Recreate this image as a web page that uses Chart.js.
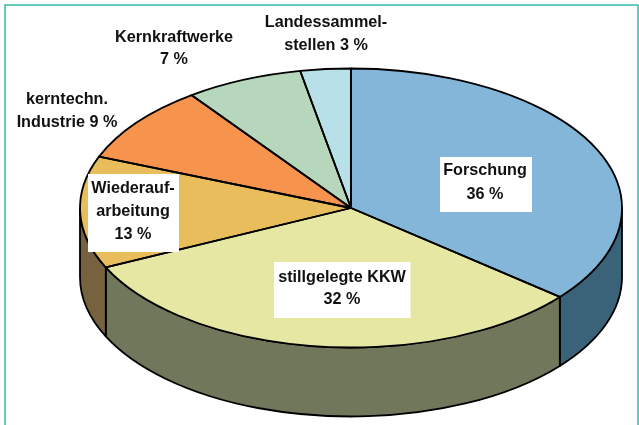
<!DOCTYPE html>
<html>
<head>
<meta charset="utf-8">
<style>html,body{margin:0;padding:0;background:#fff}canvas{display:block}</style>
<script src="https://cdn.jsdelivr.net/npm/chart.js@4"></script>
</head>
<body>
<canvas id="c" width="639" height="425"></canvas>
<script>
const categories = ["Forschung", "stillgelegte KKW", "Wiederaufarbeitung", "kerntechn. Industrie", "Kernkraftwerke", "Landessammelstellen"];
const values = [36, 32, 13, 9, 7, 3];
const topColors = ["#83b6d8", "#e5e7a3", "#e9bc5c", "#f6934c", "#b6d7bb", "#b7e0e8"];
const sideColors = ["#3a6379", "#71775a", "#76623e", "#7b4a26", "#5b6c5e", "#5c7074"];
const labelLines = [
  ["Forschung", "36 %"],
  ["stillgelegte KKW", "32 %"],
  ["Wiederauf-", "arbeitung", "13 %"],
  ["kerntechn.", "Industrie 9 %"],
  ["Kernkraftwerke", "7 %"],
  ["Landessammel-", "stellen 3 %"]
];
// layout of the 3D pie and its text
const CX = 351, CY = 208, RX = 271, RY = 139.5, DEPTH = 69;
const labelPos = [[485, 171, 24], [342, 278, 22], [133, 189, 23], [67, 100, 23], [174, 38, 22], [326, 23, 23]];
const labelBox = [[440, 157, 92, 55], [274, 262, 136.5, 56], [88, 174, 91, 78], null, null, null];

function wallPath(ctx, a0, a1) {
  ctx.beginPath();
  ctx.ellipse(CX, CY, RX, RY, 0, a0, a1);
  ctx.ellipse(CX, CY + DEPTH, RX, RY, 0, a1, a0, true);
  ctx.closePath();
}
const pie3d = {
  id: "pie3d",
  beforeDraw(chart) {
    const ctx = chart.ctx;
    ctx.save();
    ctx.fillStyle = "#ffffff";
    ctx.fillRect(0, 0, 639, 425);
    ctx.strokeStyle = "#2fbda5";
    ctx.lineWidth = 1.5;
    ctx.strokeRect(5, 5, 633, 430);
    ctx.restore();
  },
  beforeDatasetsDraw(chart) {
    const ctx = chart.ctx, arcs = chart.getDatasetMeta(0).data;
    ctx.save();
    ctx.strokeStyle = "#000";
    ctx.lineWidth = 1.8;
    ctx.lineJoin = "round";
    arcs.forEach((el, i) => {
      const tau = 2 * Math.PI;
      // front-facing part of the slice: canvas angles 0..PI
      for (const shift of [-tau, 0, tau]) {
        const a0 = Math.max(el.startAngle + shift, 0), a1 = Math.min(el.endAngle + shift, Math.PI);
        if (a1 > a0) {
          wallPath(ctx, a0, a1);
          ctx.fillStyle = sideColors[i];
          ctx.fill();
          ctx.stroke();
        }
      }
    });
    ctx.restore();
    const e = arcs[0];
    ctx.save();
    ctx.translate(CX, CY);
    ctx.scale(RX / e.outerRadius, RY / e.outerRadius);
    ctx.translate(-e.x, -e.y);
  },
  afterDatasetsDraw(chart) {
    const ctx = chart.ctx, arcs = chart.getDatasetMeta(0).data;
    ctx.restore();
    ctx.save();
    ctx.strokeStyle = "#000";
    ctx.lineWidth = 1.8;
    ctx.lineJoin = "round";
    arcs.forEach(el => {
      ctx.beginPath();
      ctx.moveTo(CX, CY);
      ctx.ellipse(CX, CY, RX, RY, 0, el.startAngle, el.endAngle);
      ctx.closePath();
      ctx.stroke();
    });
    labelBox.forEach(b => {
      if (b) { ctx.fillStyle = "#fff"; ctx.fillRect(b[0], b[1], b[2], b[3]); }
    });
    ctx.fillStyle = "#111";
    ctx.font = "bold 16.2px 'Liberation Sans', Arial, sans-serif";
    ctx.textAlign = "center";
    ctx.textBaseline = "middle";
    labelLines.forEach((lines, i) => {
      const p = labelPos[i];
      lines.forEach((t, k) => ctx.fillText(t, p[0], p[1] + k * p[2]));
    });
    ctx.restore();
  }
};
new Chart(document.getElementById("c"), {
  type: "pie",
  data: {
    labels: categories,
    datasets: [{ data: values, backgroundColor: topColors, borderWidth: 0, clip: false }]
  },
  options: {
    responsive: false,
    animation: false,
    events: [],
    plugins: { legend: { display: false }, tooltip: { enabled: false } }
  },
  plugins: [pie3d]
});
</script>
</body>
</html>
